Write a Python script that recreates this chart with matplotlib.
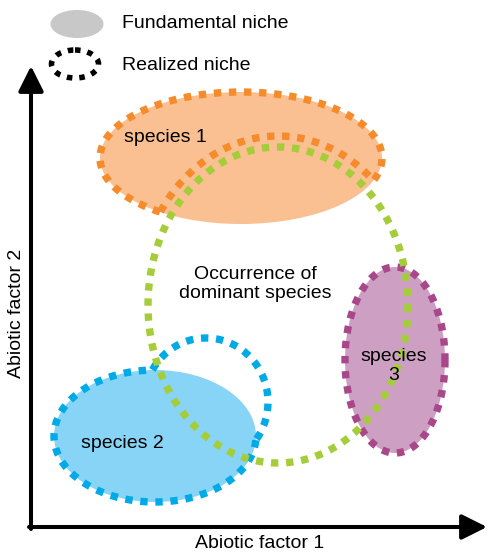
import numpy as np
import matplotlib.pyplot as plt
from matplotlib.patches import Ellipse

plt.rcParams['font.family'] = ['Liberation Sans', 'DejaVu Sans']

# niche shapes in picture pixels: centre x, centre y, half width, half height
sp1_fund = [241, 158, 141, 66]
sp2_fund = [155, 436, 101, 66]
sp2_extra = [206, 402, 62, 64]
sp3_fund = [395, 360, 50, 93]
dominant = [278, 305, 130, 158]
dom_gap = 11

labels = ['species 1', 'species 2', 'species\n3', 'Occurrence of\ndominant species']
label_pos = [(165, 138), (122, 443), (394, 366), (255, 284)]

fill_cols = ['#FAC091', '#87D4F6', '#CDA0C3']
line_cols = ['#F68B2B', '#00AAE7', '#A8488A', '#A5CD39']


def ell_pts(e, grow=0, n=1500):
    t = np.linspace(0, 2 * np.pi, n)
    return e[0] + (e[2] + grow) * np.cos(t), e[1] + (e[3] + grow) * np.sin(t)


def inside(e, x, y, grow=0):
    return ((x - e[0]) / (e[2] + grow)) ** 2 + ((y - e[1]) / (e[3] + grow)) ** 2 < 1


def runs(x, y, mask):
    # contiguous pieces of a closed curve where mask holds
    if mask.all():
        return [(x, y)]
    k = np.argmin(mask)
    x, y, mask = np.roll(x, -k), np.roll(y, -k), np.roll(mask, -k)
    out = []
    idx = np.where(mask)[0]
    if len(idx) == 0:
        return out
    parts = np.split(idx, np.where(np.diff(idx) > 1)[0] + 1)
    for p in parts:
        out.append((x[p], y[p]))
    return out


dots = dict(lw=5.3, linestyle=(0, (1, 1.05)), solid_capstyle='butt')

fig = plt.figure(figsize=(4.87, 5.55), dpi=100)
ax = fig.add_axes([0, 0, 1, 1])
ax.set_xlim(0, 487)
ax.set_ylim(555, 0)
ax.axis('off')

# fundamental niches
for e, c in zip([sp1_fund, sp2_fund, sp3_fund], fill_cols):
    ax.add_patch(Ellipse((e[0], e[1]), 2 * e[2], 2 * e[3], facecolor=c, edgecolor='none', zorder=1))

# dominant species occurrence
gx, gy = ell_pts(dominant)
ax.plot(gx, gy, color=line_cols[3], zorder=3, **dots)

# species 1 realized: fundamental minus dominant area
x, y = ell_pts(sp1_fund)
for px, py in runs(x, y, ~inside(dominant, x, y, dom_gap)):
    ax.plot(px, py, color=line_cols[0], zorder=4, **dots)
x, y = ell_pts(dominant, dom_gap)
for px, py in runs(x, y, inside(sp1_fund, x, y)):
    ax.plot(px, py, color=line_cols[0], zorder=4, **dots)

# species 2 realized: fundamental plus extra area
x, y = ell_pts(sp2_fund)
for px, py in runs(x, y, ~inside(sp2_extra, x, y)):
    ax.plot(px, py, color=line_cols[1], zorder=2, **dots)
x, y = ell_pts(sp2_extra)
for px, py in runs(x, y, ~inside(sp2_fund, x, y)):
    ax.plot(px, py, color=line_cols[1], zorder=2, **dots)

# species 3 realized equals fundamental
x, y = ell_pts(sp3_fund)
ax.plot(x, y, color=line_cols[2], zorder=2, **dots)

for t, (px, py) in zip(labels, label_pos):
    ax.text(px, py, t, fontsize=14, ha='center', va='center', zorder=6, linespacing=1.12)

# axes arrows
arrow = dict(arrowstyle='-|>,head_length=1.1,head_width=0.55', lw=2.9, color='black',
             mutation_scale=14, shrinkA=0, shrinkB=0)
ax.annotate('', xy=(31, 66), xytext=(31, 529), arrowprops=arrow)
ax.annotate('', xy=(487, 527), xytext=(29, 527), arrowprops=arrow)
ax.text(260, 543, 'Abiotic factor 1', fontsize=14, ha='center', va='center')
ax.text(17, 313, 'Abiotic factor 2', fontsize=14, ha='center', va='center', rotation=90)

# legend
ax.add_patch(Ellipse((77, 24), 53, 28, facecolor='#C8C8C8', edgecolor='none'))
ax.add_patch(Ellipse((75, 64), 47, 28, facecolor='none', edgecolor='black',
                     lw=4, linestyle=(0, (1, 1.25))))
ax.text(122, 23, 'Fundamental niche', fontsize=14, ha='left', va='center')
ax.text(122, 66, 'Realized niche', fontsize=14, ha='left', va='center')

fig.savefig('out.png', dpi=100)
